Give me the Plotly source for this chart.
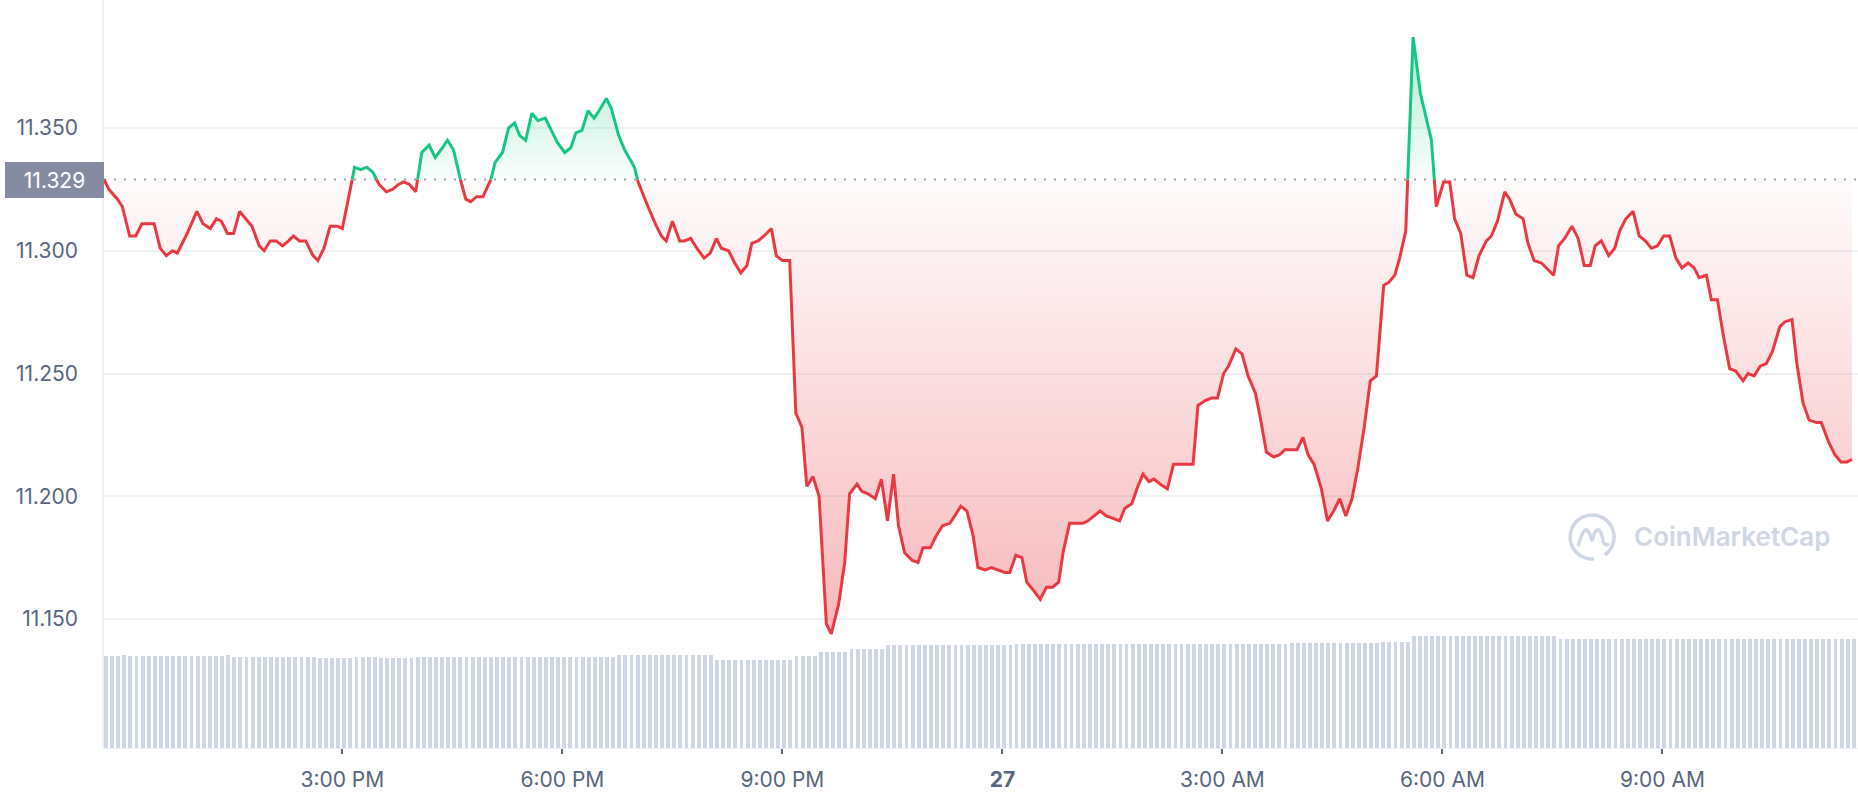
import numpy as np
import pandas as pd
import plotly.graph_objects as go

# ---------------- data ----------------
START = pd.Timestamp("2022-09-26 11:45")

# minutes after START for each price vertex
minutes = [0, 4, 11, 15, 21, 26, 31, 37, 41, 46, 51, 56, 60, 68, 76, 81, 87, 92, 96, 101,
           106, 111, 116, 121, 127, 131, 136, 141, 146, 151, 155, 160, 165, 171, 175, 180, 185, 191, 195, 200,
           205, 210, 215, 220, 225, 231, 236, 241, 245, 250, 255, 260, 266, 271, 277, 281, 286, 291, 296, 300,
           305, 310, 316, 320, 326, 331, 336, 340, 345, 350, 355, 361, 366, 371, 377, 382, 386, 391, 396, 401,
           405, 411, 415, 421, 426, 434, 437, 445, 451, 456, 460, 465, 471, 475, 480, 485, 491, 496, 501, 505,
           511, 516, 521, 526, 530, 535, 540, 546, 550, 555, 561, 566, 571, 575, 580, 585, 591, 595, 601, 606,
           610, 616, 620, 625, 631, 636, 641, 646, 650, 655, 661, 666, 670, 676, 681, 686, 692, 696, 701, 706,
           711, 715, 721, 726, 732, 737, 741, 746, 751, 755, 760, 766, 771, 776, 781, 785, 790, 796, 801, 805,
           810, 815, 820, 825, 831, 835, 841, 845, 850, 855, 859, 864, 870, 875, 880, 886, 891, 895, 901, 906,
           911, 916, 920, 926, 931, 936, 942, 946, 951, 957, 962, 966, 971, 976, 981, 985, 990, 996, 1001, 1006,
           1011, 1016, 1021, 1026, 1031, 1036, 1041, 1047, 1051, 1056, 1060, 1065, 1071, 1077, 1081, 1086, 1090, 1096,
           1101, 1105, 1110, 1115, 1120, 1125, 1131, 1135, 1140, 1146, 1150, 1155, 1161, 1165, 1170, 1176, 1180, 1186,
           1190, 1195, 1201, 1206, 1211, 1216, 1220, 1225, 1231, 1236, 1240, 1245, 1251, 1256, 1261, 1266, 1271, 1276,
           1281, 1286, 1291, 1296, 1301, 1305, 1311, 1315, 1320, 1325, 1330, 1335, 1341, 1345, 1350, 1355, 1360, 1365,
           1371, 1375, 1381, 1385, 1390, 1395, 1401, 1405, 1411, 1416, 1421, 1426, 1430]

prices = [11.329, 11.325, 11.321, 11.318, 11.306, 11.306, 11.311, 11.311, 11.311, 11.301, 11.298, 11.300, 11.299,
          11.307, 11.316, 11.311, 11.309, 11.313, 11.312, 11.307, 11.307, 11.316, 11.313, 11.310, 11.302, 11.300,
          11.304, 11.304, 11.302, 11.304, 11.306, 11.304, 11.304, 11.298, 11.296, 11.301, 11.310, 11.310, 11.309,
          11.321, 11.334, 11.333, 11.334, 11.332, 11.327, 11.324, 11.325, 11.327, 11.328, 11.327, 11.324, 11.340,
          11.343, 11.338, 11.342, 11.345, 11.341, 11.330, 11.321, 11.320, 11.322, 11.322, 11.328, 11.336, 11.340,
          11.350, 11.352, 11.347, 11.345, 11.356, 11.353, 11.354, 11.349, 11.344, 11.340, 11.342, 11.348, 11.349,
          11.357, 11.354, 11.357, 11.362, 11.358, 11.347, 11.341, 11.334, 11.328, 11.318, 11.311, 11.306, 11.304,
          11.312, 11.304, 11.304, 11.305, 11.301, 11.297, 11.299, 11.305, 11.301, 11.300, 11.295, 11.291, 11.294,
          11.303, 11.304, 11.306, 11.309, 11.298, 11.296, 11.296, 11.234, 11.228, 11.204, 11.208, 11.200, 11.148,
          11.144, 11.156, 11.173, 11.201, 11.205, 11.202, 11.201, 11.199, 11.207, 11.190, 11.209, 11.188, 11.177,
          11.174, 11.173, 11.179, 11.179, 11.184, 11.188, 11.189, 11.192, 11.196, 11.194, 11.184, 11.171, 11.170,
          11.171, 11.170, 11.169, 11.169, 11.176, 11.175, 11.165, 11.162, 11.158, 11.163, 11.163, 11.165, 11.178,
          11.189, 11.189, 11.189, 11.190, 11.192, 11.194, 11.192, 11.191, 11.190, 11.195, 11.197, 11.203, 11.209,
          11.206, 11.207, 11.205, 11.203, 11.213, 11.213, 11.213, 11.213, 11.237, 11.239, 11.240, 11.240, 11.250,
          11.253, 11.260, 11.258, 11.249, 11.242, 11.232, 11.218, 11.216, 11.217, 11.219, 11.219, 11.219, 11.224,
          11.217, 11.213, 11.203, 11.190, 11.194, 11.199, 11.192, 11.199, 11.212, 11.228, 11.247, 11.249, 11.286,
          11.287, 11.290, 11.297, 11.308, 11.387, 11.364, 11.356, 11.345, 11.318, 11.328, 11.328, 11.313, 11.307,
          11.290, 11.289, 11.298, 11.304, 11.306, 11.312, 11.324, 11.321, 11.315, 11.313, 11.303, 11.296, 11.295,
          11.293, 11.290, 11.302, 11.305, 11.310, 11.305, 11.294, 11.294, 11.302, 11.304, 11.298, 11.301, 11.308,
          11.313, 11.316, 11.306, 11.304, 11.301, 11.302, 11.306, 11.306, 11.297, 11.293, 11.295, 11.293, 11.289,
          11.290, 11.280, 11.280, 11.265, 11.252, 11.251, 11.247, 11.250, 11.249, 11.253, 11.254, 11.259, 11.269,
          11.271, 11.272, 11.254, 11.238, 11.231, 11.230, 11.230, 11.222, 11.217, 11.214, 11.214, 11.215]

# volume bars: one per 5 minutes (value, how many consecutive bars)
volume_runs = [(460, 3), (466, 1), (460, 16), (464, 1), (453, 14), (448, 6), (453, 4), (448, 6),
               (455, 33), (465, 16), (442, 13), (462, 4), (482, 5), (495, 6), (515, 21), (520, 45),
               (523, 15), (532, 5), (560, 24), (547, 50)]
volumes = [v for v, n in volume_runs for _ in range(n)]

tick_hours = [3.25, 6.25, 9.25, 12.25, 15.25, 18.25, 21.25]   # hours after START
tick_labels = ["3:00 PM", "6:00 PM", "9:00 PM", "<b>27</b>", "3:00 AM", "6:00 AM", "9:00 AM"]
y_ticks = [11.15, 11.20, 11.25, 11.30, 11.35]

# ---------------- styling ----------------
RED = "#ea3943"
GREEN = "#16c784"
GREY = "#58667e"
GRID = "#eff2f5"
FONT = "Inter"

base = prices[0]

# insert baseline crossings so the line/fill can change colour exactly at the baseline
T, P = [float(minutes[0])], [prices[0]]
for i in range(1, len(minutes)):
    a, b = prices[i - 1] - base, prices[i] - base
    if a * b < 0:
        f = a / (a - b)
        T.append(minutes[i - 1] + f * (minutes[i] - minutes[i - 1]))
        P.append(base)
    T.append(float(minutes[i]))
    P.append(prices[i])

times = [START + pd.Timedelta(minutes=m) for m in T]
eps = 1e-9
red_line = [p if p <= base + eps else None for p in P]
green_line = [p if p >= base - eps else None for p in P]
red_fill = [min(p, base) for p in P]
green_fill = [max(p, base) for p in P]
base_line = [base] * len(P)

fig = go.Figure()

# volume bars
bar_x = [START + pd.Timedelta(minutes=5 * i) for i in range(len(volumes))]
fig.add_trace(go.Bar(x=bar_x, y=volumes, yaxis="y2", marker=dict(color="#cfd6e4", line=dict(width=0)),
                     width=190000, offset=0, hoverinfo="skip", showlegend=False))

# red fill
fig.add_trace(go.Scatter(x=times, y=base_line, mode="lines", line=dict(width=0), hoverinfo="skip",
                         showlegend=False))
fig.add_trace(go.Scatter(x=times, y=red_fill, mode="lines", line=dict(width=0), fill="tonexty",
                         fillgradient=dict(type="vertical", start=min(prices), stop=base,
                                           colorscale=[[0, "rgba(234,57,67,0.36)"], [1, "rgba(234,57,67,0.02)"]]),
                         hoverinfo="skip", showlegend=False))
# green fill
fig.add_trace(go.Scatter(x=times, y=base_line, mode="lines", line=dict(width=0), hoverinfo="skip",
                         showlegend=False))
fig.add_trace(go.Scatter(x=times, y=green_fill, mode="lines", line=dict(width=0), fill="tonexty",
                         fillgradient=dict(type="vertical", start=base, stop=max(prices),
                                           colorscale=[[0, "rgba(22,199,132,0.02)"], [1, "rgba(22,199,132,0.36)"]]),
                         hoverinfo="skip", showlegend=False))
# lines
fig.add_trace(go.Scatter(x=times, y=red_line, mode="lines", line=dict(color=RED, width=3),
                         connectgaps=False, showlegend=False))
fig.add_trace(go.Scatter(x=times, y=green_line, mode="lines", line=dict(color=GREEN, width=3),
                         connectgaps=False, showlegend=False))

# dotted baseline
fig.add_shape(type="line", xref="paper", x0=0, x1=1, yref="y", y0=base, y1=base,
              line=dict(color="#9aa1b5", width=2, dash="2px,8px"), layer="below")

# baseline label box
fig.add_annotation(xref="paper", x=0, xanchor="right", yref="y", y=base, yanchor="middle",
                   text=f"{base:.3f}", showarrow=False, bgcolor="#858ca2", width=91, height=28,
                   borderpad=4, borderwidth=0, font=dict(family=FONT, size=21, color="white"), align="center")

# watermark
fig.add_annotation(xref="paper", yref="paper", x=0.8712, y=0.2821, xanchor="left", yanchor="middle",
                   text="CoinMarketCap", showarrow=False,
                   font=dict(family=FONT, size=26, color="#cfd6e4", weight=600))
angles = np.linspace(np.deg2rad(-55), np.deg2rad(-55 + 330), 40)
circle_path = "M " + " L ".join(f"{22*np.cos(a):.2f},{22*np.sin(a):.2f}" for a in angles)
fig.add_shape(type="path", xref="paper", yref="paper", xsizemode="pixel", ysizemode="pixel",
              xanchor=0.8484, yanchor=0.2821, path=circle_path, line=dict(color="#cfd6e4", width=3.5))
fig.add_shape(type="path", xref="paper", yref="paper", xsizemode="pixel", ysizemode="pixel",
              xanchor=0.8484, yanchor=0.2821,
              path="M -14,-9 Q -9,9 -5,7 Q -2,4 0,-4 Q 3,9 7,7 Q 10,4 11,-5 Q 13,-9 17,-7",
              line=dict(color="#cfd6e4", width=3.5))

tick_vals = [START + pd.Timedelta(hours=h) for h in tick_hours]
fig.update_layout(
    width=1858, height=800,
    margin=dict(l=104, r=0, t=0, b=52),
    paper_bgcolor="white", plot_bgcolor="white",
    font=dict(family=FONT, color=GREY),
    showlegend=False,
    xaxis=dict(type="date", range=[START, START + pd.Timedelta(minutes=1435)],
               tickvals=tick_vals, ticktext=tick_labels, showgrid=False, zeroline=False,
               ticks="outside", ticklen=5, tickwidth=1.5, tickcolor=GREY,
               tickfont=dict(family=FONT, size=21, color=GREY), ticklabelstandoff=8,
               showline=True, linecolor=GRID, linewidth=1),
    yaxis=dict(range=[11.0975, 11.4021], tickvals=y_ticks, ticktext=[f"{v:.3f}" for v in y_ticks],
               showgrid=True, gridcolor=GRID, gridwidth=1.5, zeroline=False, ticks="",
               tickfont=dict(family=FONT, size=21, color=GREY), ticklabelstandoff=20,
               showline=True, linecolor=GRID, linewidth=1.5),
    yaxis2=dict(overlaying="y", range=[0, 3740], visible=False),
    bargap=0,
)

fig.write_html("out.html", config={"displayModeBar": False},
               post_script="document.body.style.margin='0';document.body.style.overflow='hidden';")
